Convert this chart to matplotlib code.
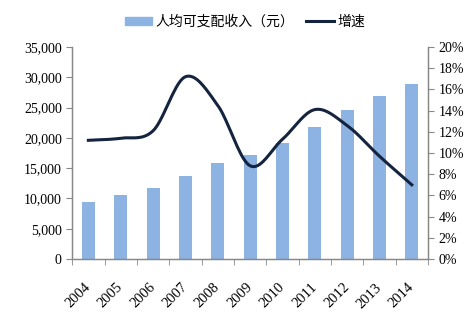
import numpy as np
import matplotlib
matplotlib.use('Agg')
import matplotlib.pyplot as plt
from matplotlib.ticker import FuncFormatter, MultipleLocator
from matplotlib.lines import Line2D
from matplotlib.patches import Patch

years = ['2004', '2005', '2006', '2007', '2008', '2009', '2010', '2011', '2012', '2013', '2014']
income = [9422, 10493, 11759, 13786, 15781, 17175, 19109, 21810, 24565, 26955, 28844]
growth = [11.2, 11.4, 12.1, 17.2, 14.5, 8.8, 11.3, 14.1, 12.6, 9.7, 7.0]

bar_color = '#8db3e2'
line_color = '#14243f'
serif = ['Liberation Serif', 'DejaVu Serif']
cjk = ['Noto Sans CJK SC', 'DejaVu Sans']


def smooth(xs, ys, n=20):
    # Catmull-Rom curve through the points, like Excel's smoothed line
    xs = np.asarray(xs, float)
    ys = np.asarray(ys, float)
    px = np.concatenate([[2 * xs[0] - xs[1]], xs, [2 * xs[-1] - xs[-2]]])
    py = np.concatenate([[2 * ys[0] - ys[1]], ys, [2 * ys[-1] - ys[-2]]])
    ox, oy = [], []
    t = np.linspace(0, 1, n, endpoint=False)
    for i in range(1, len(px) - 2):
        for p, o in ((px, ox), (py, oy)):
            p0, p1, p2, p3 = p[i - 1], p[i], p[i + 1], p[i + 2]
            o.extend(0.5 * (2 * p1 + (-p0 + p2) * t + (2 * p0 - 5 * p1 + 4 * p2 - p3) * t ** 2
                            + (-p0 + 3 * p1 - 3 * p2 + p3) * t ** 3))
    ox.append(xs[-1])
    oy.append(ys[-1])
    return np.array(ox), np.array(oy)


fig = plt.figure(figsize=(4.75, 3.27), dpi=100)
ax = fig.add_axes([0.152, 0.208, 0.749, 0.648])
x = np.arange(len(years))
ax.bar(x, income, width=0.4, color=bar_color, zorder=2)
ax.set_xlim(-0.5, len(years) - 0.5)
ax.set_ylim(0, 35000)
ax.yaxis.set_major_locator(MultipleLocator(5000))
ax.yaxis.set_major_formatter(FuncFormatter(lambda v, p: f'{int(v):,}'))

ax2 = ax.twinx()
sx, sy = smooth(x, growth)
ax2.plot(sx, sy, color=line_color, lw=2.2, zorder=3)
ax2.set_ylim(0, 20)
ax2.yaxis.set_major_locator(MultipleLocator(2))
ax2.yaxis.set_major_formatter(FuncFormatter(lambda v, p: f'{int(v)}%'))

ax.set_xticks(x)
ax.set_xticklabels(years, rotation=45, fontfamily=serif, fontsize=10.5,
                   ha='right', va='center', rotation_mode='anchor')
ax.set_xticks(np.arange(-0.5, len(years)), minor=True)
ax.tick_params(axis='x', which='major', length=0, pad=19)
ax.tick_params(axis='x', which='minor', length=4, color='#888888', direction='out')
ax.tick_params(axis='y', length=4, color='#888888', labelsize=10)
ax2.tick_params(axis='y', length=4, color='#888888', labelsize=10)
for lab in ax.get_yticklabels() + ax2.get_yticklabels():
    lab.set_fontfamily(serif)

for a in (ax, ax2):
    a.spines['top'].set_visible(False)
    for s in ('left', 'right', 'bottom'):
        a.spines[s].set_color('#888888')
        a.spines[s].set_linewidth(0.9)

handles = [Patch(color=bar_color), Line2D([], [], color=line_color, lw=2.2)]
fig.legend(handles, ['人均可支配收入（元）', '增速'], loc='center', bbox_to_anchor=(0.515, 0.933),
           ncol=2, frameon=False, prop={'family': cjk, 'size': 10},
           handlelength=2.0, handleheight=0.6, columnspacing=0.9, handletextpad=0.2)

fig.savefig('out.png', dpi=100)
